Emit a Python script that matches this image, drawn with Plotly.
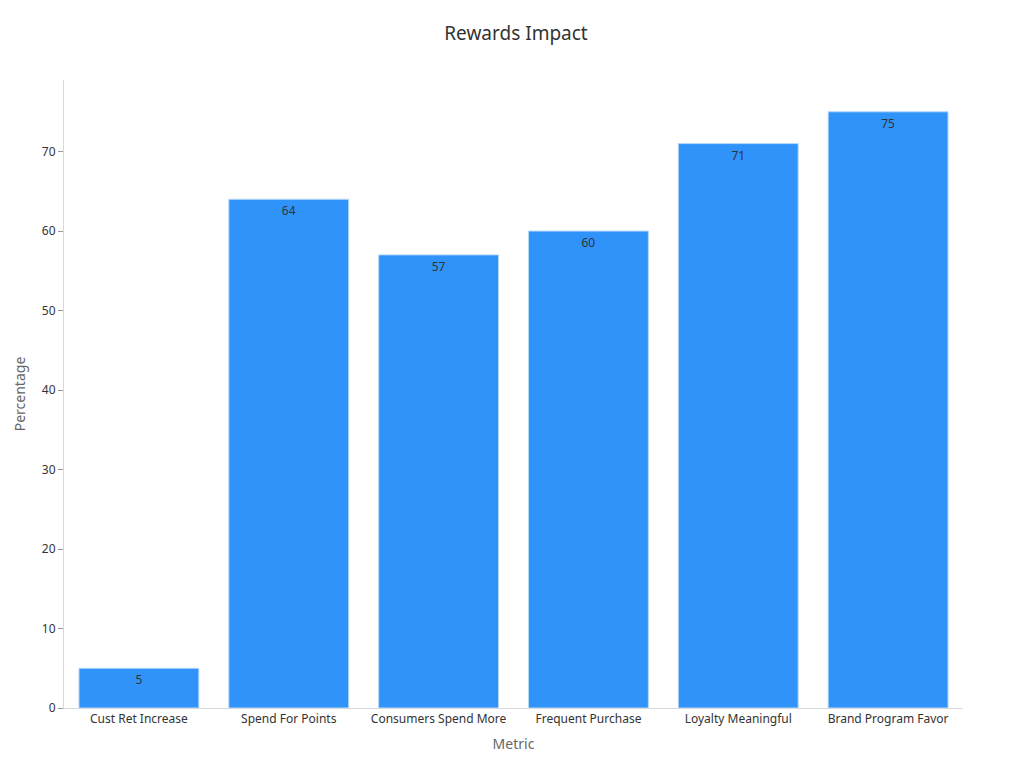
import plotly.graph_objects as go

categories = ["Cust Ret Increase", "Spend For Points", "Consumers Spend More",
              "Frequent Purchase", "Loyalty Meaningful", "Brand Program Favor"]
values = [5, 64, 57, 60, 71, 75]

fig = go.Figure(go.Bar(
    x=categories, y=values, text=values, textposition="inside",
    insidetextanchor="end", textfont=dict(color="#333333", size=12),
    marker=dict(color="#2f93fa", line=dict(color="#b8d8fb", width=1)),
))
fig.update_layout(
    width=1016, height=760,
    margin=dict(l=52, r=61, t=72, b=60),
    paper_bgcolor="white", plot_bgcolor="white",
    font=dict(family="Noto Sans, DejaVu Sans, sans-serif", color="#333333", size=12),
    title=dict(text="Rewards Impact", x=0.5, xanchor="center", y=0.967, yanchor="middle",
               font=dict(size=19, color="#333333")),
    bargap=0.2, showlegend=False,
    xaxis=dict(title=dict(text="Metric", font=dict(size=14, color="#666666"), standoff=12),
               showline=True, linecolor="#d9d9d9", showgrid=False, ticks="", tickfont=dict(size=12)),
    yaxis=dict(title=dict(text="Percentage", font=dict(size=14, color="#666666"), standoff=12),
               range=[0, 79], dtick=10, showline=True, linecolor="#d9d9d9", showgrid=False,
               ticks="outside", ticklen=5, tickcolor="#999999", zeroline=False, tickfont=dict(size=12)),
)
fig.write_html("out.html")
